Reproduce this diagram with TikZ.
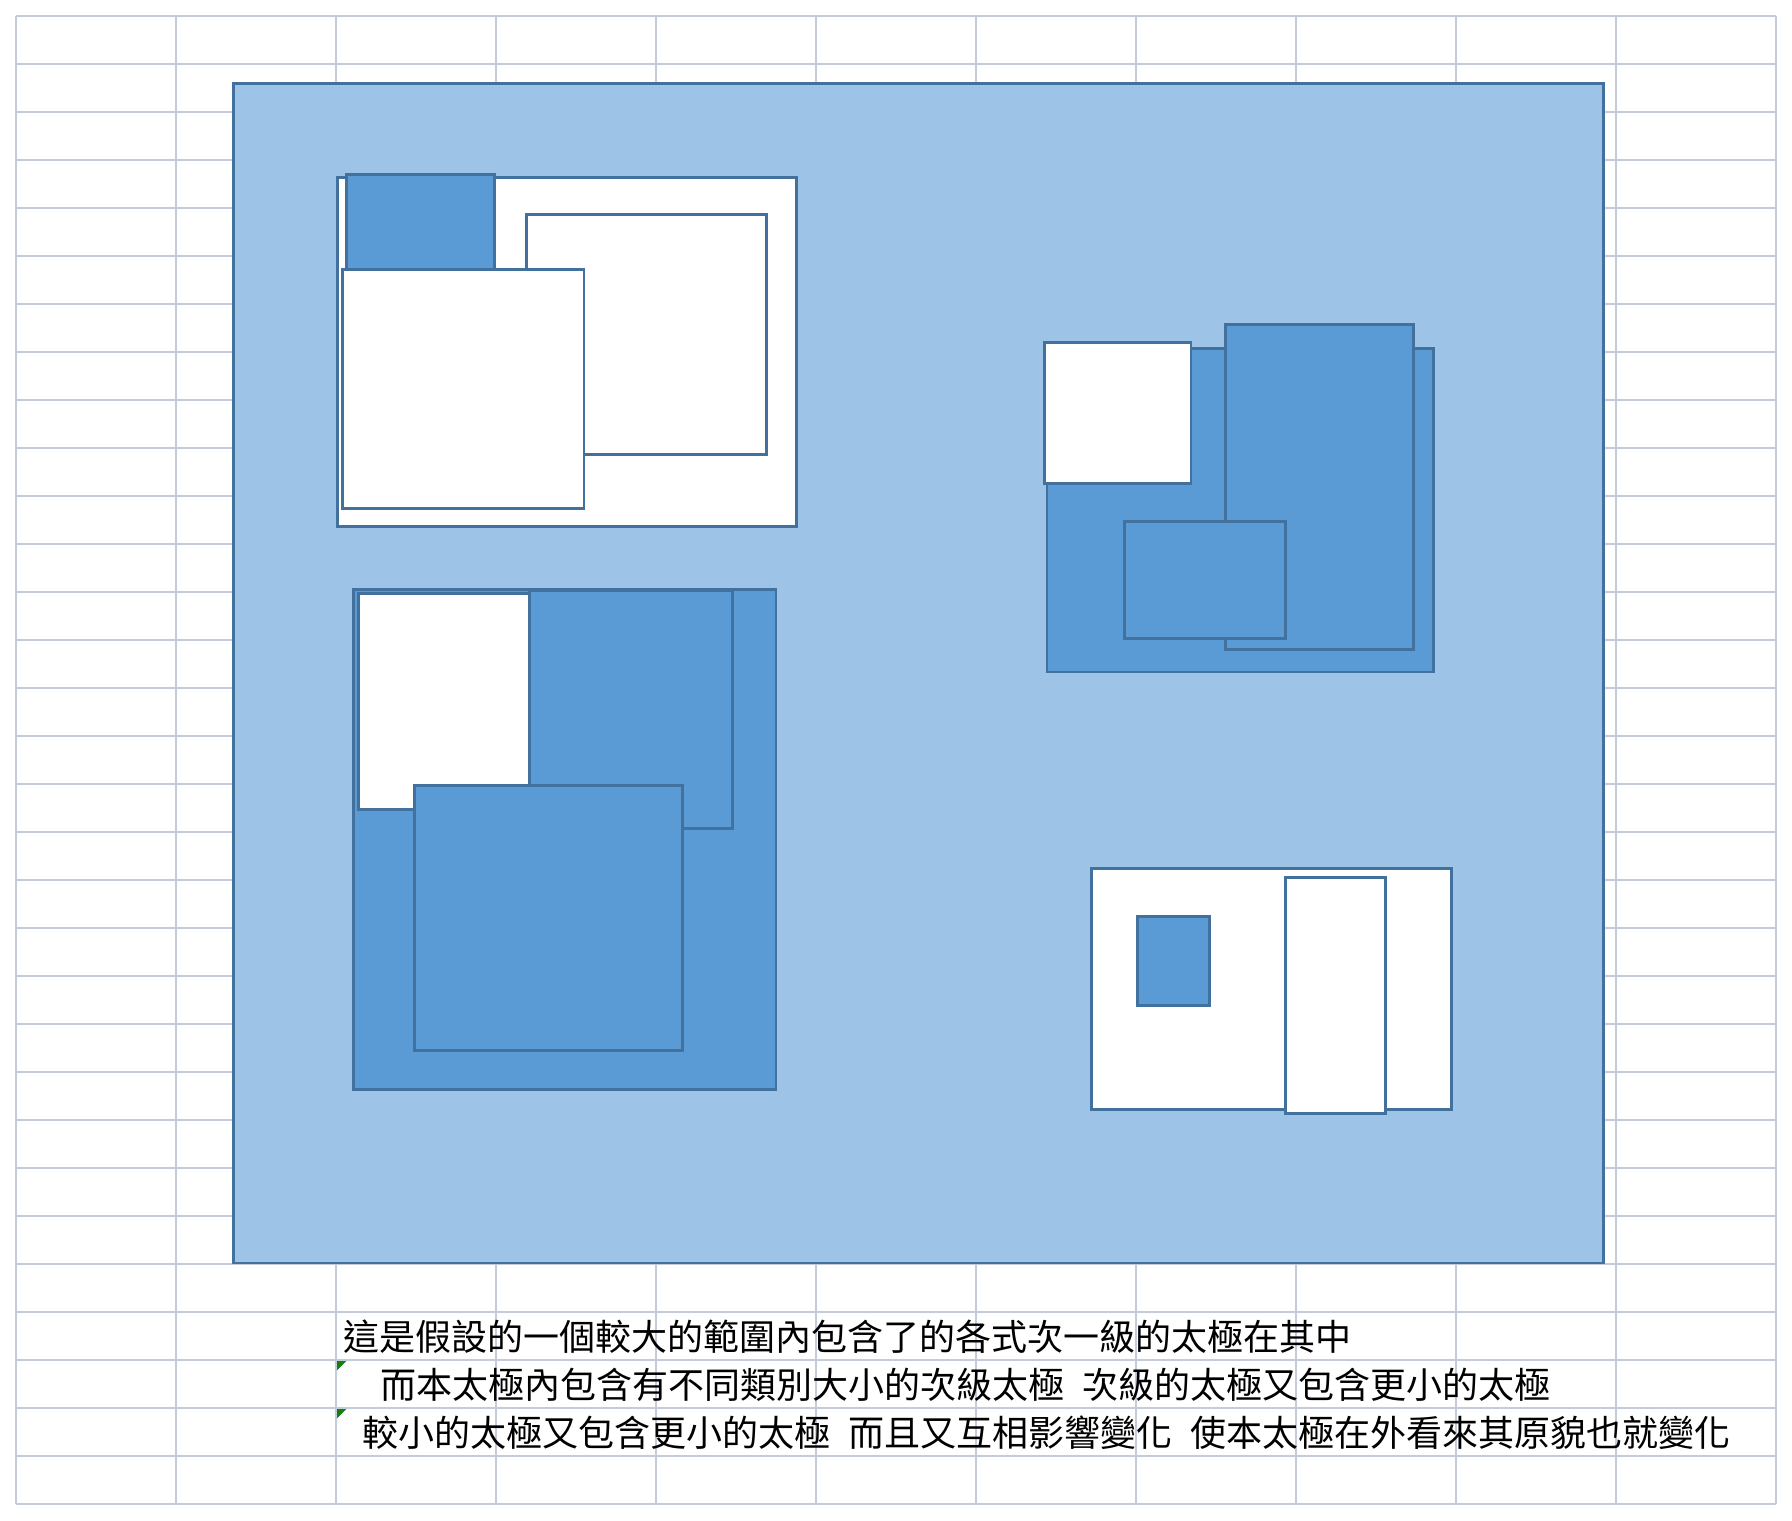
\documentclass[tikz,border=0pt]{standalone}
\usepackage{fontspec}
\newfontfamily\cjk{Noto Sans CJK TC}
\definecolor{gridc}{HTML}{C6CBDC}
\definecolor{bigfill}{HTML}{9DC3E6}
\definecolor{midblue}{HTML}{5B9BD5}
\definecolor{edgec}{HTML}{41719C}
\definecolor{cellgreen}{HTML}{108010}
\tikzset{
  gridline/.style={draw=gridc, line width=1.4pt},
  shp/.style={draw=edgec, line width=2.4pt},
  wbox/.style={shp, fill=white},
  bbox/.style={shp, fill=midblue},
  txt/.style={anchor=base west, inner sep=0pt, font=\cjk\fontsize{31.5}{36}\selectfont, text=black}
}
\begin{document}
\begin{tikzpicture}[x=1pt,y=-1pt]
\useasboundingbox[fill=white] (0,0) rectangle (1568,1330);
% spreadsheet grid
\foreach \k in {0,...,11} { \draw[gridline] ({14+140*\k},14) -- ({14+140*\k},1316); }
\foreach \k in {0,...,31} { \draw[gridline] (14,{14+42*\k}) -- (1554,{14+42*\k}); }
% big range
\draw[shp, fill=bigfill] (204,73) rectangle (1403,1105);
% top-left group
\draw[wbox] (295,155) rectangle (697,461);
\draw[bbox] (303,153) rectangle (433,236);
\draw[wbox] (461,188) rectangle (671,398);
\draw[wbox] (300,236) rectangle (511,445);
% top-right group
\draw[bbox] (916,305) rectangle (1254,588);
\draw[bbox] (1072,284) rectangle (1237,568);
\draw[wbox] (914,300) rectangle (1042,423);
\draw[bbox] (984,456) rectangle (1125,559);
% bottom-left group
\draw[bbox] (309,516) rectangle (679,953);
\draw[wbox] (314,519) rectangle (463,708);
\draw[bbox] (463,517) rectangle (641,725);
\draw[bbox] (363,687) rectangle (597,919);
% bottom-right group
\draw[wbox] (955,760) rectangle (1270,971);
\draw[bbox] (995,802) rectangle (1058,880);
\draw[wbox] (1125,768) rectangle (1212,974);
% cell markers
\fill[cellgreen] (295,1191) -- (303,1191) -- (295,1199) -- cycle;
\fill[cellgreen] (295,1233) -- (303,1233) -- (295,1241) -- cycle;
% text
\node[txt] (t1) at (300,1182) {這是假設的一個較大的範圍內包含了的各式次一級的太極在其中};
\node[txt] (t2) at (333,1224) {而本太極內包含有不同類別大小的次級太極\hspace{0.5em}次級的太極又包含更小的太極};
\node[txt] (t3) at (317,1266) {較小的太極又包含更小的太極\hspace{0.5em}而且又互相影響變化\hspace{0.5em}使本太極在外看來其原貌也就變化};
\end{tikzpicture}
\end{document}
